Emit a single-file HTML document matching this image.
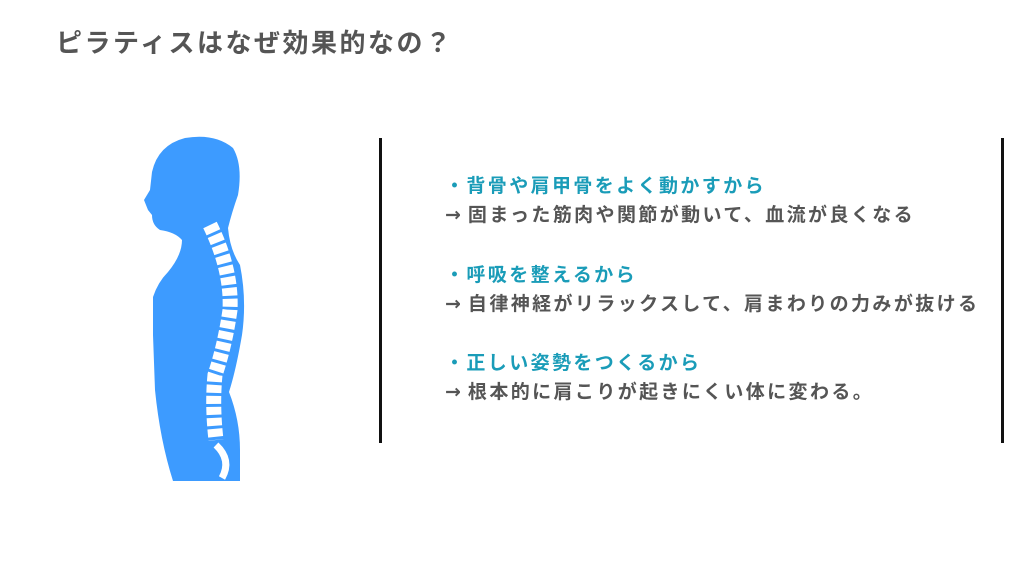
<!DOCTYPE html>
<html><head><meta charset="utf-8"><style>
body{margin:0;width:1024px;height:576px;background:#fff;overflow:hidden;position:relative;font-family:"Liberation Sans","Noto Sans CJK JP",sans-serif;font-weight:bold}
.t{position:absolute;left:56px;top:23px;font-size:26px;color:#555;letter-spacing:2.5px}
.v{position:absolute;top:138px;width:3px;height:305px;background:#111}
.p{position:absolute;left:445px;font-size:19px;letter-spacing:2.4px;white-space:nowrap}
.h{color:#1a9cb8}.b{color:#555}
.a{font-family:"DejaVu Sans",sans-serif;letter-spacing:0;margin-right:7px}
</style></head><body>
<div class="t">ピラティスはなぜ効果的なの？</div>
<svg width="1024" height="576" style="position:absolute;left:0;top:0">
<path fill="#3d9bff" d="M144,200 L150,190 L152,172 Q158,145 185,138 Q215,133 233,148 Q243,165 238,195 Q232,212 228,228 Q230,250 240,265 Q247,300 242,335 Q236,370 229,392 Q240,420 240,450 L240,481 L173,481 Q160,440 155,390 L153,335 L153,297 Q158,282 168,272 Q182,255 182,240 Q175,232 160,230 Q152,225 152,215 L148,210 Z"/>
<path d="M210,225 Q232,270 230,310 Q225,345 215,375 Q212,405 216,440" fill="none" stroke="#fff" stroke-width="15" stroke-dasharray="8 3"/>
<path d="M216,445 Q232,460 222,478" fill="none" stroke="#fff" stroke-width="7"/>
</svg>
<div class="v" style="left:379px"></div>
<div class="v" style="left:1001px"></div>
<div class="p h" style="top:171px">・背骨や肩甲骨をよく動かすから</div>
<div class="p b" style="top:200px"><span class="a">→</span>固まった筋肉や関節が動いて、血流が良くなる</div>
<div class="p h" style="top:260px">・呼吸を整えるから</div>
<div class="p b" style="top:289px"><span class="a">→</span>自律神経がリラックスして、肩まわりの力みが抜ける</div>
<div class="p h" style="top:348px">・正しい姿勢をつくるから</div>
<div class="p b" style="top:377px"><span class="a">→</span>根本的に肩こりが起きにくい体に変わる。</div>
</body></html>
